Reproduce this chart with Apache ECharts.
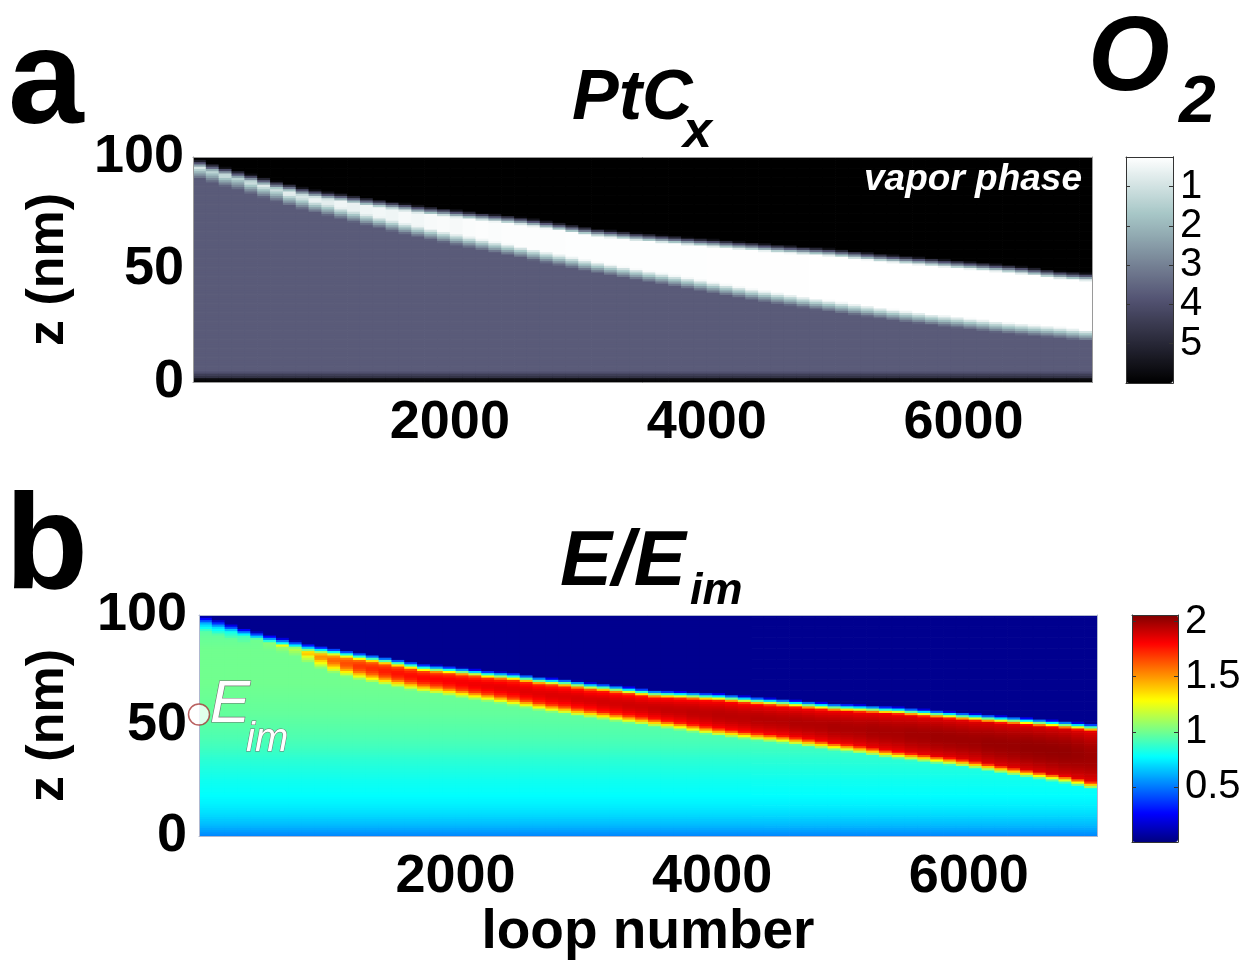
<!DOCTYPE html>
<html>
<head>
<meta charset="utf-8">
<script src="https://cdn.jsdelivr.net/npm/echarts@6/dist/echarts.min.js"></script>
<style>
  html, body { margin: 0; padding: 0; background: #ffffff; }
  #chart { width: 1249px; height: 961px; }
</style>
</head>
<body>
<div id="chart"></div>
<script>
// Loop-number column centres; each column covers ±50 loops.
const loops = [50, 150, 250, 350, 450, 550, 650, 750, 850, 950, 1050, 1150, 1250, 1350, 1450, 1550, 1650, 1750,
  1850, 1950, 2050, 2150, 2250, 2350, 2450, 2550, 2650, 2750, 2850, 2950, 3050, 3150, 3250, 3350, 3450,
  3550, 3650, 3750, 3850, 3950, 4050, 4150, 4250, 4350, 4450, 4550, 4650, 4750, 4850, 4950, 5050, 5150,
  5250, 5350, 5450, 5550, 5650, 5750, 5850, 5950, 6050, 6150, 6250, 6350, 6450, 6550, 6650, 6750, 6850, 6950];

// (a) PtCx O2 level: vapor interface (top of the bright layer), nm
const ptcSurface = [97.5, 95.8, 94.2, 92.7, 91.2, 89.6, 88.1, 86.8, 85.3, 84.2, 83.3, 82.5, 81.6, 80.6, 79.8,
  79.0, 78.2, 77.3, 76.6, 76.0, 75.3, 74.6, 74.0, 73.4, 72.8, 72.1, 71.3, 70.4, 69.5, 68.6, 67.7, 66.9,
  66.3, 65.7, 65.1, 64.6, 64.1, 63.6, 63.1, 62.6, 62.2, 61.7, 61.2, 60.8, 60.3, 59.8, 59.4, 59.0, 58.6,
  58.2, 57.6, 57.0, 56.4, 55.8, 55.3, 54.8, 54.3, 53.8, 53.3, 52.8, 52.3, 51.8, 51.3, 50.8, 50.2, 49.5,
  48.8, 48.1, 47.6, 47.2];
// bottom of the bright layer, nm
const ptcBandBottom = [93.8, 92.0, 90.1, 88.2, 86.4, 84.7, 82.9, 81.1, 79.4, 78.0, 76.6, 75.2, 73.8, 72.4,
  71.1, 69.7, 68.4, 67.1, 65.9, 64.7, 63.5, 62.4, 61.3, 60.2, 59.1, 58.0, 56.8, 55.6, 54.5, 53.4, 52.2,
  51.1, 50.1, 49.1, 48.1, 47.1, 46.2, 45.2, 44.2, 43.2, 42.2, 41.2, 40.2, 39.2, 38.3, 37.4, 36.6, 35.7,
  34.9, 34.1, 33.3, 32.5, 31.7, 30.9, 30.1, 29.4, 28.7, 28.0, 27.4, 26.8, 26.1, 25.5, 24.8, 24.2, 23.7,
  23.2, 22.7, 22.2, 21.6, 21.0];
// level inside the bright layer
const ptcBandLevel = [0.9, 1.2, 0.8, 1.3, 0.9, 0.8, 1.1, 0.7, 0.9, 0.6, 0.7, 0.5, 0.6, 0.5, 0.45, 0.5,
  0.4, 0.45, 0.38, 0.35, 0.4, 0.33, 0.3, 0.32, 0.3, 0.3, 0.3, 0.3, 0.3, 0.28, 0.28, 0.28, 0.28, 0.28,
  0.28, 0.27, 0.27, 0.27, 0.27, 0.27, 0.26, 0.26, 0.26, 0.26, 0.26, 0.26, 0.26, 0.26, 0.25, 0.25, 0.25,
  0.25, 0.25, 0.25, 0.25, 0.25, 0.25, 0.25, 0.25, 0.25, 0.25, 0.25, 0.25, 0.25, 0.25, 0.25, 0.25, 0.25,
  0.25, 0.25];
const ptcBulkLevel = 3.7;      // deposit below the bright layer
const ptcVaporLevel = 6.0;     // vapor phase
const ptcSubstrate = [5.9, 5.7, 4.7, 4.4, 3.95]; // z = 0..5 nm rows

// (b) E/Eim: vapor interface, nm
const fieldSurface = [98.8, 97.2, 95.3, 93.4, 91.8, 90.3, 89.0, 87.7, 86.3, 85.3, 84.4, 83.4, 82.4, 81.5,
  80.5, 79.4, 78.3, 77.2, 76.7, 76.2, 75.6, 74.9, 74.2, 73.7, 73.2, 72.4, 71.5, 70.9, 70.4, 69.6, 68.8,
  68.3, 67.6, 66.9, 66.2, 65.5, 65.2, 64.9, 64.6, 64.2, 63.9, 63.4, 62.8, 62.3, 61.8, 61.4, 60.9, 60.4,
  59.9, 59.4, 59.1, 58.8, 58.5, 58.1, 57.8, 57.3, 56.8, 56.3, 55.8, 55.3, 54.8, 54.3, 53.8, 53.4, 52.9,
  52.4, 51.9, 51.4, 50.8, 50.2];
// bottom of the high-field band, nm
const fieldBandBottom = [98.0, 96.5, 94.5, 92.5, 90.5, 88.5, 87.5, 85.0, 82.0, 79.5, 77.5, 75.8, 74.4, 73.2,
  72.0, 70.9, 69.8, 68.8, 68.0, 67.2, 66.3, 65.4, 64.6, 63.7, 62.7, 61.7, 60.6, 59.7, 58.9, 58.0, 57.2,
  56.4, 55.6, 54.8, 54.0, 53.2, 52.4, 51.6, 50.7, 49.8, 49.0, 48.3, 47.6, 46.9, 46.3, 45.7, 44.9, 44.1,
  43.3, 42.5, 41.8, 41.0, 40.2, 39.3, 38.6, 37.9, 37.2, 36.5, 35.8, 35.0, 34.1, 33.1, 32.1, 31.2, 30.3,
  29.4, 28.5, 27.6, 26.4, 25.0];
// peak E/Eim inside the band
const fieldBandPeak = [0.8, 0.85, 0.95, 1.05, 1.15, 1.2, 1.25, 1.3, 1.42, 1.52, 1.6, 1.65, 1.7, 1.72, 1.75,
  1.77, 1.78, 1.8, 1.8, 1.81, 1.82, 1.83, 1.84, 1.85, 1.85, 1.86, 1.86, 1.87, 1.87, 1.88, 1.88, 1.89,
  1.89, 1.9, 1.9, 1.91, 1.92, 1.92, 1.93, 1.93, 1.94, 1.94, 1.94, 1.95, 1.95, 1.95, 1.96, 1.96, 1.96,
  1.97, 1.97, 1.97, 1.98, 1.98, 1.98, 1.99, 1.99, 2.0, 2.0, 2.0, 2.0, 2.01, 2.01, 2.01, 2.02, 2.02, 2.02,
  2.02, 2.01, 2.0];
// field below the band, by depth
const fieldDepthZ = [0, 5, 10, 15, 20, 25, 30, 35, 40, 45, 50, 55, 60, 65, 70, 75, 80, 85, 90, 95, 100];
const fieldDepthLevel = [0.52, 0.63, 0.7, 0.75, 0.78, 0.8, 0.83, 0.86, 0.9, 0.93, 0.95, 0.97, 0.98, 0.99,
  1.0, 1.0, 1.0, 1.0, 0.98, 0.93, 0.85];
const fieldVaporLevel = 0.03;

// E_im marker position (loop, z)
const eimMarker = [[0, 55]];

// axis ticks
const loopTicks = [2000, 4000, 6000];
const ptcBarTicks = [1, 2, 3, 4, 5];
const fieldBarTicks = [0.5, 1, 1.5, 2];

const PTC_MIN = 0.245, PTC_MAX = 6.0;
const FIELD_MIN = 0, FIELD_MAX = 2.06;
const COL_HALF = 50, ROW_HALF = 0.5, ROWS = 100;

const clamp = (v, a, b) => Math.max(a, Math.min(b, v));

function depthLevel(z) {
  for (let i = 0; i < fieldDepthZ.length - 1; i++) {
    if (z <= fieldDepthZ[i + 1]) {
      const t = (z - fieldDepthZ[i]) / (fieldDepthZ[i + 1] - fieldDepthZ[i]);
      return fieldDepthLevel[i] * (1 - t) + fieldDepthLevel[i + 1] * t;
    }
  }
  return fieldDepthLevel[fieldDepthLevel.length - 1];
}

// level in one PtCx column at height z
function ptcLevel(z, s, l, p) {
  const topIn = s - 2;
  const botIn = Math.min(l + 2.5, topIn);
  if (z >= s + 1.5) return ptcVaporLevel;
  if (z > topIn) return ptcVaporLevel + (p - ptcVaporLevel) * (s + 1.5 - z) / 3.5;
  if (z >= botIn) return p;
  if (z > botIn - 5) return p + (ptcBulkLevel - p) * (botIn - z) / 5;
  return ptcBulkLevel;
}

// field in one column at height z
function fieldLevel(z, s, l, p) {
  const top = s - 2.5;
  const bot = Math.min(l, top);
  const edge = p - 0.15;
  if (z >= s + 1) return fieldVaporLevel;
  if (z > top) return fieldVaporLevel + (edge - fieldVaporLevel) * (s + 1 - z) / (s + 1 - top);
  if (z >= bot) {
    const h = (top - bot) / 2, c = (top + bot) / 2;
    const d = h > 0 ? (z - c) / h : 0;
    return p - 0.15 * d * d;
  }
  const f = Math.min(1, (bot - z) / 3.5);
  return edge * (1 - f) + depthLevel(z) * f;
}

const ptcCells = [];
const fieldCells = [];
loops.forEach((x, i) => {
  for (let r = 0; r < ROWS; r++) {
    const z = r + 0.5;
    const a = r < ptcSubstrate.length ? ptcSubstrate[r]
      : ptcLevel(z, ptcSurface[i], ptcBandBottom[i], ptcBandLevel[i]);
    ptcCells.push([x, z, clamp(a, PTC_MIN, PTC_MAX)]);
    const b = fieldLevel(z, fieldSurface[i], fieldBandBottom[i], fieldBandPeak[i]);
    fieldCells.push([x, z, clamp(b, FIELD_MIN, FIELD_MAX)]);
  }
});

function cellRenderer(params, api) {
  const x = api.value(0), z = api.value(1);
  const p0 = api.coord([x - COL_HALF, z + ROW_HALF]);
  const p1 = api.coord([x + COL_HALF, z - ROW_HALF]);
  return {
    type: 'rect',
    shape: { x: p0[0], y: p0[1], width: p1[0] - p0[0] + 0.7, height: p1[1] - p0[1] + 0.7 },
    style: { fill: api.visual('color') }
  };
}

const FONT = '"Liberation Sans", Arial, Helvetica, sans-serif';
const boneColors = ['#ffffff', '#d3e3e3', '#a7c7c7', '#8ba1ab', '#707a8f', '#545474', '#38384d', '#1c1c27', '#000000'];
const jetColors = ['#000080', '#0000ff', '#0080ff', '#00ffff', '#80ff80', '#ffff00', '#ff8000', '#ff0000', '#800000'];

const noLine = { show: false };
function frameAxis(gridIndex, position, color) {
  return {
    type: 'value', gridIndex, position, min: 0, max: 1, z: 10,
    axisLine: { show: true, onZero: false, lineStyle: { color, width: 1 } },
    axisTick: noLine, axisLabel: noLine, splitLine: noLine
  };
}

const tickLabel = { fontFamily: FONT, fontWeight: 'bold', fontSize: 54, color: '#000', formatter: v => String(v) };
const axisName = { fontFamily: FONT, fontWeight: 'bold', fontSize: 52, color: '#000' };

const xAxis = [
  {
    type: 'value', gridIndex: 0, min: 0, max: 7000, position: 'bottom', z: 10,
    axisLine: { show: true, onZero: false, lineStyle: { color: '#9a9a9a' } },
    axisTick: noLine, splitLine: noLine,
    axisLabel: Object.assign({ customValues: loopTicks, margin: 14 }, tickLabel)
  },
  frameAxis(0, 'top', '#9a9a9a'),
  {
    type: 'value', gridIndex: 1, min: 0, max: 7000, position: 'bottom', z: 10,
    axisLine: { show: true, onZero: false, lineStyle: { color: '#b0b8d0' } },
    axisTick: noLine, splitLine: noLine,
    axisLabel: Object.assign({ customValues: loopTicks, margin: 14 }, tickLabel),
    name: 'loop number', nameLocation: 'middle', nameGap: 64,
    nameTextStyle: Object.assign({}, axisName, { fontSize: 55 })
  },
  frameAxis(1, 'top', '#b0b8d0'),
  frameAxis(2, 'bottom', '#333'),
  frameAxis(2, 'top', '#333'),
  frameAxis(3, 'bottom', '#333'),
  frameAxis(3, 'top', '#333')
];

// colour-bar scale: ticks drawn inside, labels (optional) on the right
function barAxis(gridIndex, position, min, max, inverse, ticks, labels) {
  return {
    type: 'value', gridIndex, position, offset: 0, min, max, inverse, z: 10,
    axisLine: { show: true, onZero: false, lineStyle: { color: '#333' } },
    axisTick: { show: true, inside: true, length: 4, customValues: ticks, lineStyle: { color: '#333' } },
    axisLabel: labels
      ? { show: true, customValues: labels, showMinLabel: true, showMaxLabel: true, hideOverlap: false,
          margin: 7, fontFamily: FONT, fontSize: 40, color: '#000', formatter: v => String(v) }
      : { show: false },
    splitLine: noLine
  };
}

const yAxis = [
  {
    type: 'value', gridIndex: 0, min: 0, max: 100, interval: 50, position: 'left', z: 10,
    axisLine: { show: true, onZero: false, lineStyle: { color: '#9a9a9a' } },
    axisTick: noLine, splitLine: noLine,
    axisLabel: Object.assign({ margin: 9 }, tickLabel),
    name: 'z (nm)', nameLocation: 'middle', nameGap: 118, nameTextStyle: axisName
  },
  frameAxis(0, 'right', '#9a9a9a'),
  {
    type: 'value', gridIndex: 1, min: 0, max: 100, interval: 50, position: 'left', z: 10,
    axisLine: { show: true, onZero: false, lineStyle: { color: '#b0b8d0' } },
    axisTick: noLine, splitLine: noLine,
    axisLabel: Object.assign({ margin: 12 }, tickLabel),
    name: 'z (nm)', nameLocation: 'middle', nameGap: 124, nameTextStyle: axisName
  },
  frameAxis(1, 'right', '#b0b8d0'),
  // odd and even labels on two coincident axes so that neighbouring labels are all kept
  barAxis(2, 'right', PTC_MIN, PTC_MAX, true, ptcBarTicks, ptcBarTicks.filter((v, i) => i % 2 === 0)),
  barAxis(2, 'right', PTC_MIN, PTC_MAX, true, ptcBarTicks, ptcBarTicks.filter((v, i) => i % 2 === 1)),
  barAxis(2, 'left', PTC_MIN, PTC_MAX, true, ptcBarTicks, null),
  barAxis(3, 'right', FIELD_MIN, FIELD_MAX, false, fieldBarTicks, fieldBarTicks),
  barAxis(3, 'left', FIELD_MIN, FIELD_MAX, false, fieldBarTicks, null)
];

function label(text, x, y, size, opts) {
  const o = opts || {};
  return {
    type: 'text', x, y, z: 20, silent: true,
    style: {
      text,
      fontFamily: FONT,
      fontSize: size,
      fontWeight: o.weight || 'bold',
      fontStyle: o.style || 'normal',
      fill: o.fill || '#000',
      stroke: o.stroke,
      lineWidth: o.lineWidth || 0,
      textAlign: o.align || 'left', align: o.align || 'left',
      textVerticalAlign: 'middle', verticalAlign: 'middle'
    }
  };
}

const option = {
  backgroundColor: '#ffffff',
  animation: false,
  grid: [
    { left: 193, top: 157, width: 899, height: 225 },
    { left: 199, top: 615, width: 898, height: 225 },
    { left: 1126, top: 157, width: 47, height: 226 },
    { left: 1132, top: 615, width: 46, height: 227 }
  ],
  xAxis,
  yAxis,
  visualMap: [
    {
      type: 'continuous', seriesIndex: 0, dimension: 2, min: PTC_MIN, max: PTC_MAX,
      inverse: true, calculable: false, hoverLink: false, padding: 0,
      left: 1126, top: 157, itemWidth: 47, itemHeight: 226, text: null,
      inRange: { color: boneColors }
    },
    {
      type: 'continuous', seriesIndex: 1, dimension: 2, min: FIELD_MIN, max: FIELD_MAX,
      calculable: false, hoverLink: false, padding: 0,
      left: 1132, top: 615, itemWidth: 46, itemHeight: 227, text: null,
      inRange: { color: jetColors }
    }
  ],
  series: [
    {
      type: 'custom', name: 'PtCx', xAxisIndex: 0, yAxisIndex: 0, clip: true,
      renderItem: cellRenderer, data: ptcCells, silent: true
    },
    {
      type: 'custom', name: 'E/Eim', xAxisIndex: 2, yAxisIndex: 2, clip: true,
      renderItem: cellRenderer, data: fieldCells, silent: true
    },
    {
      type: 'scatter', name: 'Eim', xAxisIndex: 2, yAxisIndex: 2, clip: false, z: 15,
      symbol: 'circle', symbolSize: 21, data: eimMarker, silent: true,
      itemStyle: { color: '#ffffff', borderColor: '#a83838', borderWidth: 1.5 }
    }
  ],
  graphic: [
    label('a', 8, 85, 136),
    label('b', 5, 550, 136),
    label('PtC', 572, 100, 70, { style: 'italic' }),
    label('x', 683, 133, 52, { style: 'italic' }),
    label('O', 1088, 61, 105, { style: 'italic' }),
    label('2', 1179, 104, 66, { style: 'italic' }),
    label('E/E', 560, 563, 78, { style: 'italic' }),
    label('im', 690, 592, 45, { style: 'italic' }),
    label('vapor phase', 1082, 180, 37, { style: 'italic', fill: '#ffffff', align: 'right' }),
    label('E', 210, 705, 60, { style: 'italic', weight: 'normal', fill: '#ffffff', stroke: '#707070', lineWidth: 1.2 }),
    label('im', 246, 740, 40, { style: 'italic', weight: 'normal', fill: '#ffffff', stroke: '#707070', lineWidth: 1 })
  ]
};

const chart = echarts.init(document.getElementById('chart'), null, { renderer: 'canvas' });
chart.setOption(option);
</script>
</body>
</html>
